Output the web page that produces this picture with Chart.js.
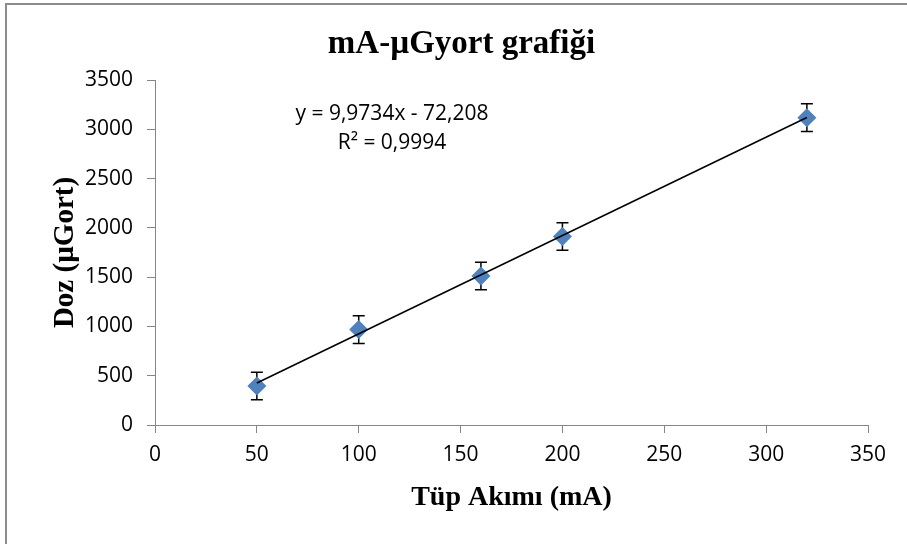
<!DOCTYPE html>
<html>
<head>
<meta charset="utf-8">
<script src="https://cdn.jsdelivr.net/npm/chart.js"></script>
<style>
  html, body { margin: 0; padding: 0; background: #fff; }
  #wrap { position: relative; width: 907px; height: 544px; overflow: hidden; }
  #frame { position: absolute; left: 5px; top: 3px; width: 940px; height: 580px; border: 2px solid #8c8c8c; box-sizing: border-box; }
  canvas { position: absolute; left: 0; top: 0; }
</style>
</head>
<body>
<div id="wrap">
  <div id="frame"></div>
  <canvas id="chart" width="907" height="544"></canvas>
</div>
<script>
// -----------------------------
// Daten
// -----------------------------
const mA = [50, 100, 160, 200, 320];
const dose = [395, 968, 1512, 1912, 3118];
const doseErr = [140, 140, 140, 140, 140];

// trendline ends (from y = 9,9734x - 72,208)
const trendX = [50, 320];
const trendY = [426.5, 3119.3];

const chartTitle = "mA-\u00B5Gyort grafiği";
const eqLines = ["y = 9,9734x - 72,208", "R\u00B2 = 0,9994"];

const xTicksMax = 350;
const yTicksMax = 3500;

const serif = '"Liberation Serif", "Times New Roman", serif';
const sans = '"Open Sans", sans-serif';
const axisGray = "#868686";

// -----------------------------
// Fehlerbalken
// -----------------------------
const errorBars = {
  id: "errorBars",
  beforeDatasetsDraw(chart) {
    const { ctx, scales: { x, y } } = chart;
    ctx.save();
    ctx.strokeStyle = "#000";
    ctx.lineWidth = 1.5;
    for (let i = 0; i < mA.length; i++) {
      const px = x.getPixelForValue(mA[i]);
      const top = y.getPixelForValue(dose[i] + doseErr[i]);
      const bot = y.getPixelForValue(dose[i] - doseErr[i]);
      ctx.beginPath();
      ctx.moveTo(px, top); ctx.lineTo(px, bot);
      ctx.moveTo(px - 6, top); ctx.lineTo(px + 6, top);
      ctx.moveTo(px - 6, bot); ctx.lineTo(px + 6, bot);
      ctx.stroke();
    }
    ctx.restore();
  }
};

// -----------------------------
// Titel + Gleichung
// -----------------------------
const texts = {
  id: "texts",
  afterDraw(chart) {
    const { ctx, chartArea } = chart;
    ctx.save();
    ctx.fillStyle = "#000";
    ctx.textAlign = "center";

    ctx.font = "bold 33px " + serif;
    ctx.textBaseline = "alphabetic";
    ctx.fillText(chartTitle, chart.width / 2 + 8, 53);

    ctx.font = "21px " + sans;
    ctx.textBaseline = "middle";
    ctx.fillText(eqLines[0], chartArea.left + 237, chartArea.top + 34);
    ctx.fillText(eqLines[1], chartArea.left + 237, chartArea.top + 63);
    ctx.restore();
  }
};

new Chart(document.getElementById("chart"), {
  type: "scatter",
  data: {
    datasets: [
      {
        label: "trend",
        data: trendX.map((v, i) => ({ x: v, y: trendY[i] })),
        showLine: true,
        borderColor: "#000",
        borderWidth: 1.5,
        pointRadius: 0,
        order: 0
      },
      {
        label: "Doz",
        data: mA.map((v, i) => ({ x: v, y: dose[i] })),
        pointStyle: "rectRot",
        pointRadius: 9.5,
        backgroundColor: "#4F81BD",
        borderColor: "#4F81BD",
        borderWidth: 0,
        order: 1
      }
    ]
  },
  options: {
    responsive: false,
    animation: false,
    layout: { padding: { left: 0, right: 39, top: 80, bottom: 0 } },
    plugins: {
      legend: { display: false },
      tooltip: { enabled: false },
      title: { display: false }
    },
    scales: {
      x: {
        type: "linear",
        min: 0,
        max: xTicksMax,
        ticks: { stepSize: 50, color: "#000", font: { family: sans, size: 21 }, padding: 9, maxRotation: 0, callback: (v) => String(v) },
        grid: { drawOnChartArea: false, tickLength: 8, color: axisGray },
        border: { color: axisGray, width: 1 },
        title: {
          display: true,
          text: "Tüp Akımı (mA)",
          color: "#000",
          font: { family: serif, size: 28, weight: "bold" },
          padding: { top: 0, bottom: 29 }
        },
        afterFit: (s) => { s.height = 119; }
      },
      y: {
        type: "linear",
        min: 0,
        max: yTicksMax,
        ticks: { stepSize: 500, color: "#000", font: { family: sans, size: 21 }, padding: 14, callback: (v) => String(v) },
        grid: { drawOnChartArea: false, tickLength: 8, color: axisGray },
        border: { color: axisGray, width: 1 },
        title: {
          display: true,
          text: "Doz (\u00B5Gort)",
          color: "#000",
          font: { family: serif, size: 29, weight: "bold" },
          padding: { top: 48, bottom: 0 }
        },
        afterFit: (s) => { s.width = 155; }
      }
    }
  },
  plugins: [errorBars, texts]
});
</script>
</body>
</html>
